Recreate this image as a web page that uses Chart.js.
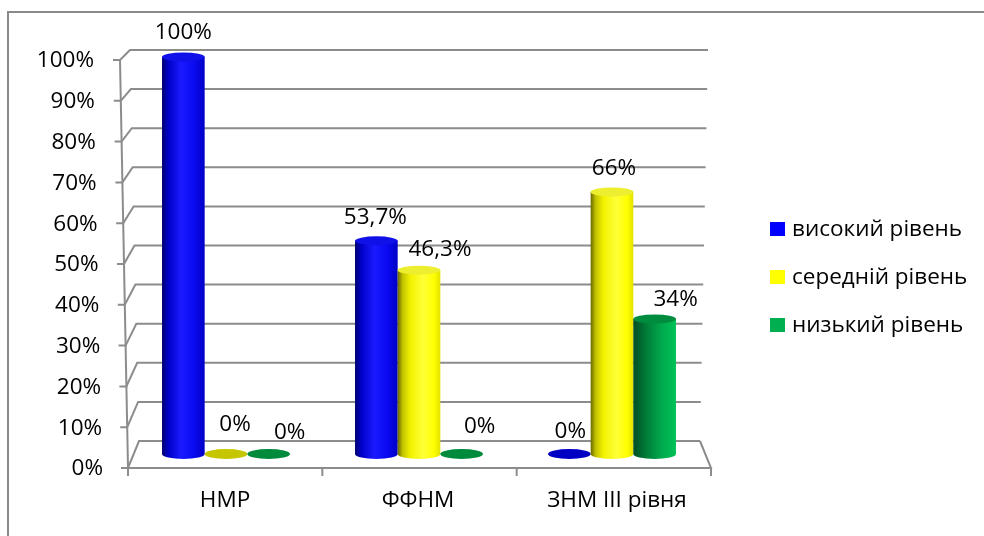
<!DOCTYPE html>
<html><head><meta charset="utf-8">
<script src="https://cdn.jsdelivr.net/npm/chart.js@4.4.0/dist/chart.umd.min.js"></script>
<style>html,body{margin:0;padding:0;background:#fff}#wrap{width:984px;height:536px;position:relative}</style>
</head><body><div id="wrap"><canvas id="c" width="984" height="536"></canvas></div>
<script>
// ---- data ----
const categories = ['НМР', 'ФФНМ', 'ЗНМ ІІІ рівня'];
const seriesNames = ['високий рівень', 'середній рівень', 'низький рівень'];
const highLevel = [100, 53.7, 0];
const midLevel = [0, 46.3, 66];
const lowLevel = [0, 0, 34];
const valueLabels = [['100%', '53,7%', '0%'], ['0%', '46,3%', '66%'], ['0%', '0%', '34%']];
const yTicks = [0, 10, 20, 30, 40, 50, 60, 70, 80, 90, 100];
const yTickLabels = ['0%', '10%', '20%', '30%', '40%', '50%', '60%', '70%', '80%', '90%', '100%'];

// ---- styles ----
const FONT = '22.5px "Open Sans", "Liberation Sans", sans-serif';
const GRID = '#8c8c8c';
const legendColors = ['#0000FF', '#FFFF00', '#00B050'];
const bodyStops = [
  [[0, '#000070'], [0.15, '#0000c8'], [0.45, '#1a1aff'], [0.75, '#0a0af2'], [1, '#0000c4']],
  [[0, '#6a6a00'], [0.12, '#c4c400'], [0.3, '#f2f200'], [0.6, '#ffff38'], [0.85, '#ffff00'], [1, '#e2e200']],
  [[0, '#004d22'], [0.3, '#007d38'], [0.7, '#00ad4e'], [1, '#00c257']]
];
const topColors = ['#1010e8', '#eeee30', '#008c3e'];
const flatColors = ['#0000c4', '#c6c600', '#008a3c'];
// label offsets [dataset][index] : dx, dy relative to top of bar
const labelOff = [[[0, -24], [-1, -23], [1, -22]], [[9, -29], [21, -21], [2, -23]], [[21, -21], [18, -27], [21, -19]]];

// geometry of the pseudo-3D frame
const FRONT = {x0: 128, y0: 468, x1: 120, y1: 60};
const BACK = {xl0: 139, xl1: 130, xr0: 700, xr1: 708, y0: 441, y1: 50};

const frame3d = {
  id: 'frame3d',
  beforeDatasetsDraw(chart) {
    const ctx = chart.ctx, ys = chart.scales.y, xs = chart.scales.x;
    ctx.save();
    ctx.strokeStyle = '#8a8a8a'; ctx.lineWidth = 2;
    ctx.beginPath(); ctx.moveTo(8, 536); ctx.lineTo(8, 12); ctx.lineTo(984, 12); ctx.stroke();

    ctx.strokeStyle = GRID; ctx.lineWidth = 2;
    const frac = v => (ys.bottom - ys.getPixelForValue(v)) / (ys.bottom - ys.top);
    yTicks.forEach((v, i) => {
      const t = frac(v);
      const by = BACK.y0 + (BACK.y1 - BACK.y0) * t;
      const bxl = BACK.xl0 + (BACK.xl1 - BACK.xl0) * t;
      const bxr = BACK.xr0 + (BACK.xr1 - BACK.xr0) * t;
      const fx = FRONT.x0 + (FRONT.x1 - FRONT.x0) * t;
      const fy = FRONT.y0 + (FRONT.y1 - FRONT.y0) * t;
      ctx.beginPath();
      ctx.moveTo(fx - 7, fy); ctx.lineTo(fx, fy); ctx.lineTo(bxl, by); ctx.lineTo(bxr, by);
      ctx.stroke();
      ctx.fillStyle = '#000'; ctx.font = FONT; ctx.textAlign = 'right'; ctx.textBaseline = 'middle';
      ctx.fillText(yTickLabels[i], 94 + 9 * (1 - t), fy + 1);
    });
    ctx.beginPath(); ctx.moveTo(FRONT.x1, FRONT.y1); ctx.lineTo(FRONT.x0, FRONT.y0); ctx.stroke();
    const fr = 711;
    ctx.beginPath(); ctx.moveTo(FRONT.x0, FRONT.y0); ctx.lineTo(fr, FRONT.y0); ctx.lineTo(BACK.xr0, BACK.y0); ctx.stroke();
    const half = (xs.getPixelForValue(1) - xs.getPixelForValue(0)) / 2;
    const n = categories.length;
    for (let i = 0; i <= n; i++) {
      const px = i < n ? xs.getPixelForValue(i) - half : xs.getPixelForValue(n - 1) + half;
      const fxp = FRONT.x0 + (px - xs.left) / (xs.right - xs.left) * (fr - FRONT.x0);
      ctx.beginPath(); ctx.moveTo(fxp, FRONT.y0); ctx.lineTo(fxp, FRONT.y0 + 8); ctx.stroke();
    }
    ctx.fillStyle = '#000'; ctx.textAlign = 'center'; ctx.textBaseline = 'middle'; ctx.font = FONT;
    categories.forEach((c, i) => ctx.fillText(c, xs.getPixelForValue(i) + (i === 2 ? 5 : -1), 501));
    ctx.textAlign = 'left';
    seriesNames.forEach((s, i) => {
      const cy = 229 + i * 48;
      ctx.fillStyle = legendColors[i];
      ctx.fillRect(770, cy - 7, 15, 14);
      ctx.fillStyle = '#000';
      ctx.fillText(s, 792, cy + 1);
    });
    ctx.restore();
  },
  afterDatasetsDraw(chart) {
    const ctx = chart.ctx;
    ctx.save();
    chart.data.datasets.forEach((ds, di) => {
      const meta = chart.getDatasetMeta(di);
      meta.data.forEach((el, i) => {
        const p = el.getProps(['x', 'y', 'base', 'width'], true);
        const rx = p.width / 2, ry = 5, cx = p.x;
        const v = ds.data[i];
        if (v === 0) {
          ctx.fillStyle = flatColors[di];
          ctx.beginPath(); ctx.ellipse(cx, p.base, rx, ry, 0, 0, Math.PI * 2); ctx.fill();
        } else {
          const g = ctx.createLinearGradient(cx - rx, 0, cx + rx, 0);
          bodyStops[di].forEach(s => g.addColorStop(s[0], s[1]));
          ctx.fillStyle = g;
          ctx.beginPath();
          ctx.moveTo(cx - rx, p.y);
          ctx.lineTo(cx - rx, p.base);
          ctx.ellipse(cx, p.base, rx, ry, 0, Math.PI, 0, true);
          ctx.lineTo(cx + rx, p.y);
          ctx.closePath(); ctx.fill();
          ctx.fillStyle = topColors[di];
          ctx.beginPath(); ctx.ellipse(cx, p.y, rx, ry - 0.5, 0, 0, Math.PI * 2); ctx.fill();
        }
        const off = labelOff[di][i];
        ctx.fillStyle = '#000'; ctx.font = FONT; ctx.textAlign = 'center'; ctx.textBaseline = 'middle';
        ctx.fillText(valueLabels[di][i], cx + off[0], p.y + off[1]);
      });
    });
    ctx.restore();
  }
};

new Chart(document.getElementById('c'), {
  type: 'bar',
  data: {
    labels: categories,
    datasets: [highLevel, midLevel, lowLevel].map((d, i) => ({
      label: seriesNames[i], data: d,
      backgroundColor: 'rgba(0,0,0,0)', borderWidth: 0,
      categoryPercentage: 0.663, barPercentage: 1.0
    }))
  },
  options: {
    responsive: false, animation: false, devicePixelRatio: 1,
    layout: {padding: {left: 129.5, right: 275.5, top: 57, bottom: 82}},
    scales: {
      x: {display: false},
      y: {display: false, min: 0, max: 100}
    },
    plugins: {legend: {display: false}, tooltip: {enabled: false}}
  },
  plugins: [frame3d]
});
</script></body></html>
